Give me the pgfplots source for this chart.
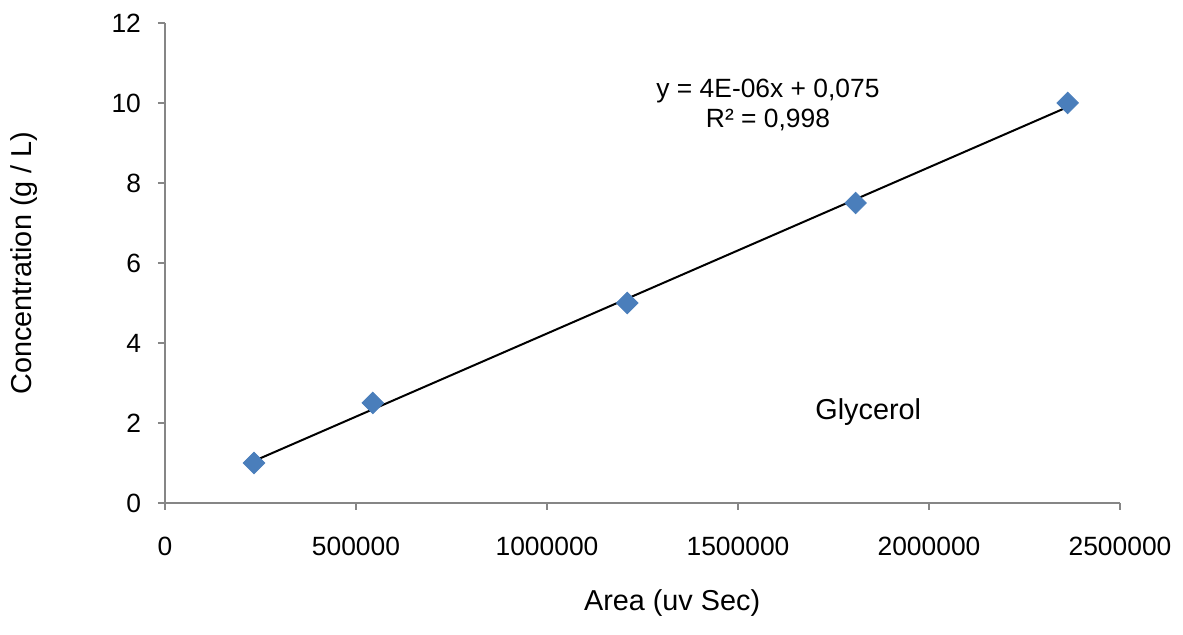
\documentclass[border=0pt]{standalone}
\usepackage{pgfplots}
\pgfplotsset{compat=1.18}
\usepackage{fontspec}
\setmainfont{Liberation Sans}

\definecolor{markblue}{HTML}{4A7EBB}
\definecolor{axisgray}{HTML}{868686}

\begin{document}
\begin{tikzpicture}
\path[use as bounding box] (0,0) rectangle (591.5pt,317.5pt);
\begin{axis}[
  scale only axis,
  width=477.5pt, height=240pt,
  at={(82.5pt,66pt)}, anchor=south west,
  xmin=0, xmax=2500000, ymin=0, ymax=12,
  axis lines=left,
  axis line style={-, axisgray, line width=0.6pt},
  tick style={axisgray, line width=0.6pt},
  tick align=outside,
  major tick length=3.5pt,
  xtick={0,500000,1000000,1500000,2000000,2500000},
  xticklabels={0,500000,1000000,1500000,2000000,2500000},
  ytick={0,2,4,6,8,10,12},
  yticklabels={0,2,4,6,8,10,12},
  ticklabel style={font=\fontsize{13.2}{15}\selectfont, text=black},
  xticklabel style={yshift=-10pt},
  yticklabel style={xshift=-5pt},
  scaled x ticks=false,
  xlabel={Area (uv Sec)},
  ylabel={Concentration (g / L)},
  label style={font=\fontsize{14.4}{16}\selectfont},
  xlabel style={at={(axis description cs:0.531,-0.208)}, anchor=center},
  ylabel style={at={(axis description cs:-0.148,0.5)}, anchor=center, rotate=0},
  clip=false,
]
% calibration standards
\addplot[only marks, mark=square*, mark size=3.8pt,
  mark options={rotate=45, fill=markblue, draw=markblue}]
  coordinates {(233000,1) (544000,2.5) (1210000,5) (1808000,7.5) (2363000,10)};
% linear trendline over the data range
\addplot[black, line width=1pt] coordinates {(233000,1.05) (2363000,9.90)};
\node[align=center, font=\fontsize{13.2}{15}\selectfont, inner sep=0pt]
  at (axis cs:1578500,9.95) {y = 4E-06x + 0,075\\R² = 0,998};
\node[anchor=west, font=\fontsize{14.4}{16}\selectfont, inner sep=0pt]
  at (axis cs:1701600,2.28) {Glycerol};
\end{axis}
\end{tikzpicture}
\end{document}
